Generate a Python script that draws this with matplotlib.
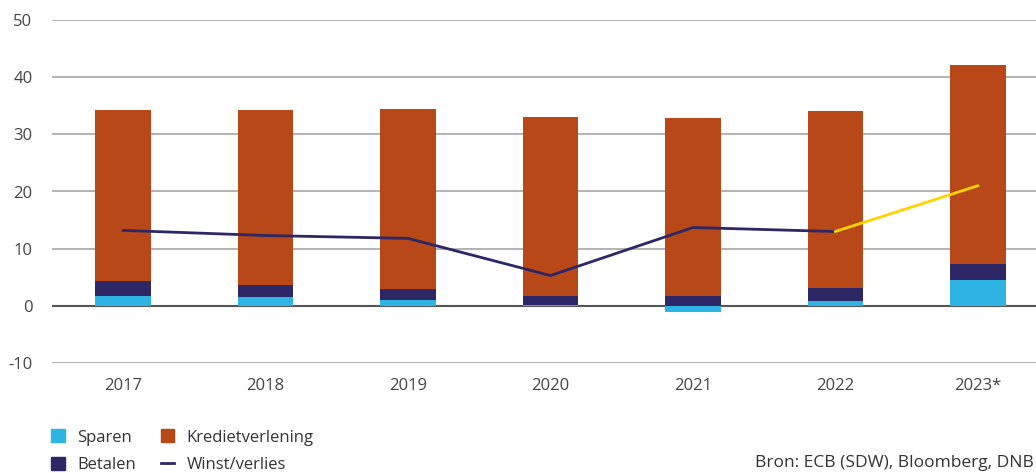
import numpy as np
import matplotlib.pyplot as plt
from matplotlib.patches import Patch
from matplotlib.lines import Line2D

plt.rcParams['font.family'] = ['Open Sans', 'DejaVu Sans']
plt.rcParams['axes.unicode_minus'] = False

years = ['2017', '2018', '2019', '2020', '2021', '2022', '2023*']
sparen = [1.8, 1.5, 1.0, 0.2, -1.1, 0.8, 4.6]
betalen = [2.5, 2.1, 1.9, 1.6, 1.8, 2.3, 2.8]
krediet = [29.9, 30.6, 31.5, 31.2, 31.0, 30.9, 34.8]
winst = [13.2, 12.3, 11.8, 5.3, 13.7, 13.0, 21.0]

c_sparen = '#2EB4E3'
c_betalen = '#2D2766'
c_krediet = '#B84817'
c_yellow = '#FFD200'

fig = plt.figure(figsize=(10.36, 4.73), dpi=100)
ax = fig.add_axes([52 / 1036, 1 - 363 / 473, 997 / 1036, 343 / 473])

x = np.arange(len(years))
w = 0.39
sp = np.array(sparen)
bet_bottom = np.where(sp > 0, sp, 0)
ax.bar(x, sparen, w, color=c_sparen, zorder=3)
ax.bar(x, betalen, w, bottom=bet_bottom, color=c_betalen, zorder=3)
ax.bar(x, krediet, w, bottom=bet_bottom + np.array(betalen), color=c_krediet, zorder=3)

# line: solid navy up to 2022, yellow for the estimate
ax.plot(x[:-1], winst[:-1], color=c_betalen, lw=2, zorder=4)
ax.plot(x[-2:], winst[-2:], color=c_yellow, lw=2, zorder=4)

ax.set_xlim(-0.5, 6.5)
ax.set_ylim(-10, 50)
ax.set_yticks(range(-10, 51, 10))
ax.set_xticks(x)
ax.set_xticklabels(years)
ax.grid(axis='y', color='#a6a6a6', lw=1.2, zorder=0)
ax.axhline(0, color='#555555', lw=1.5, zorder=2)
for s in ax.spines.values():
    s.set_visible(False)
ax.tick_params(length=0, labelsize=12, labelcolor='#444444')
ax.tick_params(axis='x', pad=11)
ax.tick_params(axis='y', pad=14)

handles = [Patch(color=c_sparen), Patch(color=c_betalen),
           Patch(color=c_krediet), Line2D([], [], color=c_betalen, lw=2)]
labels = ['Sparen', 'Betalen', 'Kredietverlening', 'Winst/verlies']
fig.legend(handles, labels, ncol=2, loc='lower left', bbox_to_anchor=(0.035, -0.032),
           frameon=False, fontsize=12, handlelength=0.8, handleheight=0.8,
           handletextpad=0.75, columnspacing=1.5, labelspacing=0.68,
           labelcolor='#333333')

fig.text(1034 / 1036, 2 / 473, 'Bron: ECB (SDW), Bloomberg, DNB', fontsize=12.5,
         color='#333333', ha='right', va='bottom')

fig.savefig('out.png', dpi=100)
